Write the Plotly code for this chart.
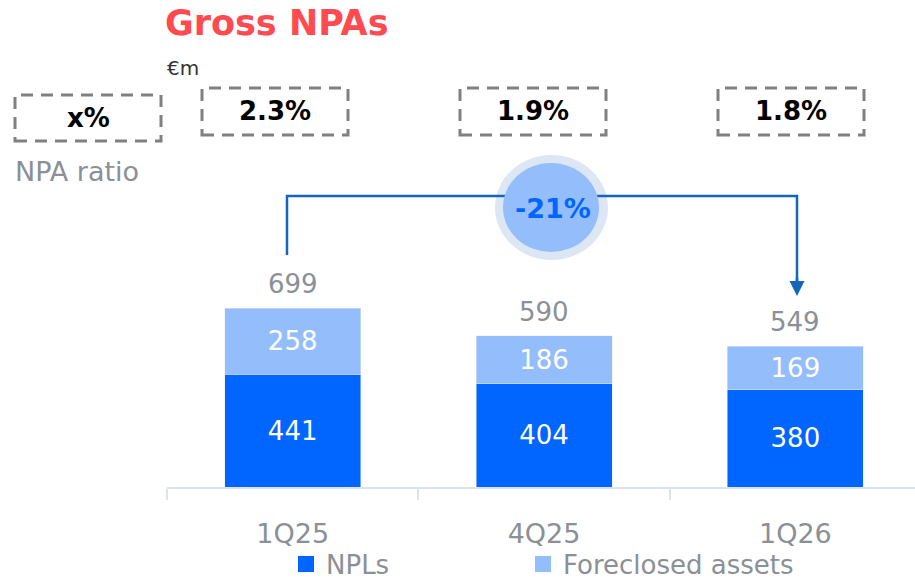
import plotly.graph_objects as go

# ---- data ----
categories = ["1Q25", "4Q25", "1Q26"]
npls = [441, 404, 380]
foreclosed = [258, 186, 169]
totals = [699, 590, 549]
npa_ratio = [2.3, 1.9, 1.8]
change_pct = -21

W, H = 915, 580
def px(x):
    return x / W
def py(y):
    return 1 - y / H

BLUE = "#0066ff"
LIGHT = "#94bdfb"
GRAY = "#8a9096"
FONT = "DejaVu Sans"

fig = go.Figure()
fig.add_trace(go.Bar(x=categories, y=npls, name="NPLs", marker_color=BLUE,
                     texttemplate="%{y}", textposition="inside", insidetextanchor="middle",
                     textfont=dict(color="white", size=26, family=FONT), showlegend=False))
fig.add_trace(go.Bar(x=categories, y=foreclosed, name="Foreclosed assets", marker_color=LIGHT,
                     texttemplate="%{y}", textposition="inside", insidetextanchor="middle",
                     textfont=dict(color="white", size=26, family=FONT), showlegend=False))
# legend entries
fig.add_trace(go.Scatter(x=[None], y=[None], mode="markers", name="NPLs", legend="legend",
                         marker=dict(symbol="square", size=18, color=BLUE)))
fig.add_trace(go.Scatter(x=[None], y=[None], mode="markers", name="Foreclosed assets", legend="legend2",
                         marker=dict(symbol="square", size=18, color=LIGHT)))

annotations = []
for c, t in zip(categories, totals):
    annotations.append(dict(x=c, y=t, xref="x", yref="y", text=str(t), showarrow=False,
                            yanchor="bottom", yshift=7,
                            font=dict(size=26, color=GRAY, family=FONT)))

shapes = []
# dashed NPA ratio boxes
box_specs = [(15, 95, 161, 141, "x%")] + [
    (202 + i * 258, 88, 348 + i * 258, 135, f"{v}%") for i, v in enumerate(npa_ratio)]
for x0, y0, x1, y1, txt in box_specs:
    shapes.append(dict(type="rect", xref="paper", yref="paper",
                       x0=px(x0), x1=px(x1), y0=py(y1), y1=py(y0),
                       line=dict(color="#808080", width=3, dash="12px,8px")))
    annotations.append(dict(x=px((x0 + x1) / 2), y=py((y0 + y1) / 2), xref="paper", yref="paper",
                            text=f"<b>{txt}</b>", showarrow=False, xanchor="center", yanchor="middle",
                            font=dict(size=26, color="black", family=FONT)))

annotations.append(dict(x=px(13), y=py(172), xref="paper", yref="paper", text="NPA ratio",
                        showarrow=False, xanchor="left", yanchor="middle",
                        font=dict(size=27, color=GRAY, family=FONT)))
annotations.append(dict(x=px(163), y=py(23), xref="paper", yref="paper", text="<b>Gross NPAs</b>",
                        showarrow=False, xanchor="left", yanchor="middle",
                        font=dict(size=35, color="#ff4a4f", family=FONT)))
annotations.append(dict(x=px(165), y=py(68), xref="paper", yref="paper", text="€m",
                        showarrow=False, xanchor="left", yanchor="middle",
                        font=dict(size=20, color="#333333", family=FONT)))

# change bubble and connector
shapes.append(dict(type="circle", xref="paper", yref="paper", x0=px(495), x1=px(608),
                   y0=py(260), y1=py(155), fillcolor="#dde6f3", line=dict(width=0), layer="above"))
shapes.append(dict(type="path", xref="paper", yref="paper",
                   path=f"M {px(287)},{py(255)} L {px(287)},{py(196)} L {px(797)},{py(196)} L {px(797)},{py(285)}",
                   line=dict(color="#1565b8", width=2.5), layer="above"))
shapes.append(dict(type="circle", xref="paper", yref="paper", x0=px(503), x1=px(599),
                   y0=py(252), y1=py(163), fillcolor=LIGHT, line=dict(width=0), layer="above"))
annotations.append(dict(x=px(797), y=py(296), xref="paper", yref="paper", text="",
                        showarrow=True, ax=0, ay=-20, arrowhead=2, arrowsize=1.2, arrowwidth=2.5,
                        arrowcolor="#1565b8"))
annotations.append(dict(x=px(553), y=py(208), xref="paper", yref="paper", text=f"<b>{change_pct}%</b>",
                        showarrow=False, xanchor="center", yanchor="middle",
                        font=dict(size=27, color=BLUE, family=FONT)))

base_px = 487
scale = 179 / 699
legend_common = dict(orientation="h", yanchor="middle", xanchor="left", y=py(564),
                     font=dict(size=26, color=GRAY, family=FONT), itemclick=False,
                     bgcolor="rgba(0,0,0,0)")
fig.update_layout(
    width=W, height=H, margin=dict(l=0, r=0, t=0, b=0, autoexpand=False),
    paper_bgcolor="white", plot_bgcolor="white",
    barmode="stack", bargap=0.459,
    xaxis=dict(domain=[167 / W, 1], range=[-0.5, 2.476], type="category",
               showline=True, linecolor="#dce3ea", linewidth=2,
               ticks="outside", tickson="boundaries", ticklen=11, tickcolor="#dce3ea", tickwidth=2,
               ticklabelstandoff=22, showgrid=False, zeroline=False,
               tickfont=dict(size=27, color=GRAY, family=FONT)),
    yaxis=dict(domain=[1 - base_px / H, 1], range=[0, base_px / scale], visible=False),
    legend=dict(x=px(286), **legend_common),
    legend2=dict(x=px(523), **legend_common),
    shapes=shapes, annotations=annotations,
    font=dict(family=FONT),
)
fig.write_html("out.html", post_script="document.body.style.margin='0px';",
               config={"displayModeBar": False})
